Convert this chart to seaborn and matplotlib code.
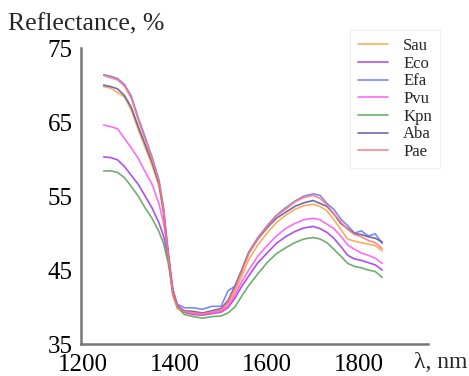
import matplotlib
matplotlib.use("Agg")
import matplotlib.pyplot as plt
import seaborn as sns
import pandas as pd

# wavelength grid, nm
wl = [1245, 1260, 1275, 1290, 1305, 1320, 1335, 1350, 1365, 1375, 1385, 1395, 1405,
      1420, 1440, 1460, 1480, 1500, 1515, 1530, 1545, 1560, 1580, 1600, 1620, 1640,
      1660, 1680, 1700, 1715, 1730, 1745, 1760, 1775, 1790, 1805, 1820, 1835, 1850]

sau = [69.8, 69.6, 69.0, 68.4, 66.6, 64.0, 61.6, 59.2, 56.4, 52.6, 46.8, 41.6, 39.8,
       39.3, 39.0, 39.0, 39.2, 39.5, 40.4, 42.0, 44.2, 46.4, 48.4, 50.0, 51.4, 52.4,
       53.2, 53.7, 53.9, 53.6, 53.0, 51.8, 50.5, 49.2, 48.9, 48.7, 48.5, 48.3, 47.6]
eco = [60.3, 60.2, 59.9, 59.0, 57.8, 56.6, 55.0, 53.4, 51.4, 49.6, 46.8, 42.4, 40.2,
       39.3, 39.0, 38.9, 39.1, 39.3, 39.9, 41.2, 42.8, 44.2, 46.0, 47.3, 48.6, 49.5,
       50.2, 50.7, 50.9, 50.6, 50.1, 49.3, 48.2, 47.0, 46.5, 46.3, 46.0, 45.7, 45.0]
efa = [71.4, 71.2, 70.9, 70.1, 68.5, 65.6, 63.0, 60.3, 57.2, 53.5, 47.5, 42.2, 40.4,
       39.9, 39.9, 39.7, 40.1, 40.1, 42.2, 42.8, 45.0, 47.4, 49.4, 51.0, 52.4, 53.4,
       54.3, 55.0, 55.3, 55.1, 54.0, 53.2, 51.9, 51.0, 50.0, 50.3, 49.6, 49.9, 48.6]
pvu = [64.6, 64.4, 64.1, 62.8, 61.5, 60.1, 58.3, 56.6, 54.0, 51.4, 47.6, 42.5, 40.2,
       39.4, 39.1, 39.0, 39.2, 39.4, 40.1, 41.6, 43.4, 45.0, 46.9, 48.3, 49.6, 50.6,
       51.3, 51.8, 52.0, 51.8, 51.2, 50.6, 49.6, 48.4, 47.8, 47.3, 47.0, 46.6, 45.9]
kpn = [58.4, 58.4, 58.2, 57.5, 56.3, 55.0, 53.4, 52.0, 50.2, 48.6, 46.0, 42.2, 40.0,
       39.0, 38.7, 38.5, 38.7, 38.8, 39.2, 40.0, 41.5, 42.9, 44.5, 46.0, 47.2, 48.0,
       48.7, 49.2, 49.4, 49.2, 48.7, 47.8, 46.9, 45.9, 45.5, 45.3, 45.0, 44.8, 44.0]
aba = [70.0, 69.8, 69.5, 68.6, 67.0, 64.4, 62.0, 59.6, 56.7, 53.0, 47.2, 41.9, 40.1,
       39.5, 39.4, 39.2, 39.5, 39.8, 40.9, 42.8, 45.0, 47.3, 49.2, 50.7, 52.0, 52.8,
       53.6, 54.1, 54.4, 54.0, 53.6, 52.6, 51.3, 50.6, 49.9, 49.8, 49.5, 49.3, 48.8]
pae = [71.3, 71.0, 70.7, 69.9, 68.2, 65.3, 62.7, 60.0, 57.0, 53.2, 47.0, 41.8, 40.0,
       39.4, 39.2, 39.1, 39.3, 39.6, 40.6, 42.5, 44.8, 47.2, 49.3, 50.9, 52.3, 53.2,
       54.2, 54.8, 55.1, 54.7, 53.8, 52.6, 51.5, 50.5, 49.8, 49.5, 49.0, 48.7, 47.9]

names = ["Sau", "Eco", "Efa", "Pvu", "Kpn", "Aba", "Pae"]
series = [sau, eco, efa, pvu, kpn, aba, pae]
colors = ["#ffa24a", "#a43cf0", "#6f7cf5", "#ff5cf5", "#5ea65e", "#5c5ca8", "#ff7a7a"]

rows = []
for name, vals in zip(names, series):
    for w, v in zip(wl, vals):
        rows.append({"wl": w, "R": v, "sample": name})
df = pd.DataFrame(rows)

sns.set_style("white")
plt.rcParams["font.family"] = ["Liberation Serif", "DejaVu Serif"]

fig = plt.figure(figsize=(4.69, 3.76), dpi=100)
ax = fig.add_axes([0.173, 0.085, 0.740, 0.787])

sns.lineplot(data=df, x="wl", y="R", hue="sample", hue_order=names,
             palette=dict(zip(names, colors)), linewidth=1.2, alpha=0.9, ax=ax)

ax.set_xlim(1196, 1950)
ax.set_ylim(35, 75)
ax.set_xticks([1200, 1400, 1600, 1800])
ax.set_yticks([35, 45, 55, 65, 75])
ax.set_xlabel("")
ax.set_ylabel("")
ax.tick_params(axis="both", direction="in", color="#4e9a4e", width=1.2,
               labelsize=18, labelcolor="black")
ax.tick_params(axis="x", length=8, pad=7)
ax.tick_params(axis="y", length=6, pad=6)
for side in ["top", "right"]:
    ax.spines[side].set_visible(False)
for side in ["left", "bottom"]:
    ax.spines[side].set_color("#777777")
    ax.spines[side].set_linewidth(1.8)

fig.text(0.017, 0.934, "Reflectance, %", fontsize=18.5, ha="left", va="center")
fig.text(0.996, 0.037, "λ, nm", fontsize=17, ha="right", va="center")

leg = ax.legend(loc="upper left", bbox_to_anchor=(0.728, 0.943),
                bbox_transform=fig.transFigure, frameon=True, fontsize=12,
                handlelength=1.8, handletextpad=0.9, labelspacing=0.1,
                borderpad=0.5, fancybox=False)
leg.get_frame().set_edgecolor("#eeeeee")
leg.get_frame().set_linewidth(0.8)

fig.savefig("out.png", dpi=100)
